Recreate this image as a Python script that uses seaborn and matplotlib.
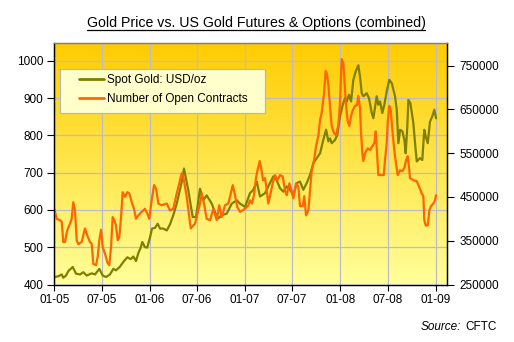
import numpy as np
import pandas as pd
import matplotlib
matplotlib.use("Agg")
import matplotlib.pyplot as plt
import matplotlib.dates as mdates
from matplotlib.patches import Rectangle
from matplotlib.lines import Line2D
from matplotlib.colors import LinearSegmentedColormap
from matplotlib.ticker import StrMethodFormatter
import seaborn as sns

# ---------------- data ----------------
# time in years since 2005-01-01
gold_t = [0.000, 0.042, 0.078, 0.094, 0.123, 0.147, 0.193, 0.228, 0.270, 0.304,
          0.340, 0.392, 0.427, 0.472, 0.508, 0.542, 0.584, 0.619, 0.647, 0.689,
          0.731, 0.766, 0.801, 0.829, 0.857, 0.881, 0.906, 0.923, 0.951, 0.975,
          1.004, 1.025, 1.056, 1.084, 1.109, 1.143, 1.179, 1.213, 1.248, 1.284,
          1.336, 1.360, 1.405, 1.451, 1.486, 1.528, 1.563, 1.598, 1.651, 1.685,
          1.720, 1.756, 1.808, 1.861, 1.913, 1.948, 2.000, 2.052, 2.087, 2.123,
          2.157, 2.210, 2.244, 2.297, 2.332, 2.367, 2.402, 2.437, 2.472, 2.507,
          2.542, 2.577, 2.611, 2.647, 2.682, 2.716, 2.752, 2.787, 2.821, 2.850,
          2.874, 2.891, 2.909, 2.944, 2.968, 2.996, 3.025, 3.049, 3.067, 3.091,
          3.112, 3.136, 3.161, 3.188, 3.206, 3.224, 3.241, 3.276, 3.300, 3.329,
          3.346, 3.371, 3.381, 3.398, 3.416, 3.440, 3.461, 3.486, 3.513, 3.539,
          3.573, 3.591, 3.608, 3.626, 3.650, 3.671, 3.685, 3.702, 3.713, 3.734,
          3.765, 3.783, 3.801, 3.835, 3.859, 3.880, 3.895, 3.916, 3.940, 3.964,
          3.985, 4.003]
gold_usd = [420, 422, 427, 418, 424, 436, 447, 429, 427, 433,
            424, 430, 427, 442, 424, 420, 427, 442, 438, 448,
            463, 473, 468, 475, 463, 484, 499, 514, 500, 499,
            527, 550, 552, 563, 550, 550, 545, 561, 586, 617,
            675, 711, 653, 581, 581, 657, 626, 639, 617, 594,
            577, 586, 590, 617, 626, 617, 608, 645, 654, 676,
            636, 645, 663, 690, 680, 658, 649, 663, 654, 640,
            672, 676, 654, 672, 694, 725, 739, 752, 788, 815,
            784, 792, 779, 788, 801, 851, 882, 900, 891, 909,
            891, 949, 972, 988, 958, 913, 905, 913, 900, 860,
            846, 887, 905, 882, 891, 860, 882, 918, 949, 940,
            905, 869, 779, 815, 811, 788, 752, 824, 895, 887,
            833, 779, 730, 739, 734, 815, 797, 779, 837, 851,
            869, 846]

oi_t = [0.000, 0.025, 0.060, 0.078, 0.094, 0.112, 0.136, 0.165, 0.182, 0.199,
        0.217, 0.235, 0.252, 0.287, 0.322, 0.346, 0.374, 0.392, 0.409, 0.437,
        0.455, 0.472, 0.490, 0.508, 0.532, 0.556, 0.577, 0.595, 0.612, 0.629,
        0.647, 0.665, 0.682, 0.700, 0.717, 0.741, 0.766, 0.787, 0.812, 0.836,
        0.857, 0.881, 0.917, 0.951, 0.975, 0.996, 1.021, 1.046, 1.067, 1.091,
        1.126, 1.179, 1.213, 1.248, 1.284, 1.336, 1.353, 1.389, 1.416, 1.431,
        1.476, 1.528, 1.546, 1.570, 1.598, 1.633, 1.668, 1.703, 1.730, 1.756,
        1.790, 1.825, 1.871, 1.895, 1.919, 1.948, 2.000, 2.035, 2.052, 2.073,
        2.094, 2.115, 2.136, 2.155, 2.173, 2.189, 2.210, 2.228, 2.244, 2.262,
        2.290, 2.315, 2.339, 2.367, 2.395, 2.420, 2.437, 2.465, 2.490, 2.507,
        2.535, 2.559, 2.577, 2.605, 2.622, 2.640, 2.664, 2.682, 2.700, 2.724,
        2.745, 2.769, 2.787, 2.804, 2.829, 2.846, 2.857, 2.874, 2.891, 2.909,
        2.933, 2.954, 2.979, 2.996, 3.014, 3.031, 3.049, 3.064, 3.077, 3.094,
        3.112, 3.130, 3.154, 3.175, 3.188, 3.206, 3.217, 3.230, 3.241, 3.259,
        3.287, 3.311, 3.335, 3.356, 3.371, 3.384, 3.398, 3.426, 3.455, 3.468,
        3.486, 3.497, 3.513, 3.528, 3.539, 3.555, 3.573, 3.591, 3.601, 3.626,
        3.650, 3.671, 3.689, 3.706, 3.723, 3.730, 3.765, 3.801, 3.825, 3.853,
        3.870, 3.880, 3.895, 3.916, 3.933, 3.951, 3.975, 3.993, 4.003]
oi_contracts = [423000, 400000, 397000, 393000, 347000, 347000, 374000, 389000, 400000, 438000,
                419000, 351000, 342000, 347000, 378000, 362000, 347000, 343000, 297000, 294000,
                313000, 351000, 375000, 335000, 320000, 301000, 294000, 335000, 404000, 397000,
                385000, 351000, 358000, 404000, 461000, 450000, 461000, 458000, 438000, 423000,
                400000, 408000, 416000, 423000, 412000, 400000, 442000, 477000, 469000, 435000,
                431000, 435000, 419000, 423000, 458000, 504000, 496000, 450000, 404000, 378000,
                389000, 435000, 458000, 435000, 400000, 397000, 423000, 397000, 431000, 404000,
                431000, 435000, 477000, 454000, 427000, 416000, 423000, 431000, 442000, 435000,
                454000, 493000, 516000, 532000, 511000, 488000, 493000, 465000, 435000, 452000,
                481000, 500000, 488000, 500000, 497000, 465000, 454000, 481000, 463000, 447000,
                481000, 474000, 429000, 429000, 452000, 408000, 419000, 465000, 511000, 534000,
                566000, 589000, 626000, 642000, 687000, 738000, 733000, 706000, 658000, 612000,
                596000, 591000, 614000, 664000, 765000, 756000, 694000, 648000, 623000, 612000,
                635000, 648000, 658000, 660000, 681000, 653000, 596000, 550000, 532000, 550000,
                561000, 557000, 566000, 573000, 600000, 550000, 500000, 500000, 500000, 534000,
                573000, 623000, 658000, 648000, 619000, 580000, 543000, 516000, 500000, 511000,
                509000, 516000, 534000, 543000, 511000, 493000, 488000, 486000, 474000, 458000,
                452000, 397000, 385000, 385000, 419000, 429000, 435000, 442000, 454000]

series_labels = ["Spot Gold: USD/oz", "Number of Open Contracts"]
left_ticks = [400, 500, 600, 700, 800, 900, 1000]
right_ticks = [250000, 350000, 450000, 550000, 650000, 750000]
title_text = "Gold Price vs. US Gold Futures & Options (combined)"


def to_dates(t):
    return pd.Timestamp("2005-01-01") + pd.to_timedelta(np.asarray(t) * 365.25, unit="D")


df_gold = pd.DataFrame({"date": to_dates(gold_t), "value": gold_usd})
df_oi = pd.DataFrame({"date": to_dates(oi_t), "value": oi_contracts})

# ---------------- styling ----------------
sns.set_theme(style="white")
plt.rcParams["font.family"] = ["Liberation Sans", "DejaVu Sans"]

W, H = 514, 342
fig = plt.figure(figsize=(W / 100, H / 100), dpi=100)
fig.patch.set_facecolor("white")

L, R, T, B = 54.3, 446.7, 43.3, 284.5
ax = fig.add_axes([L / W, 1 - B / H, (R - L) / W, (B - T) / H])

# gradient background
cmap = LinearSegmentedColormap.from_list("gold_bg", ["#FFFF99", "#FFCC00"])
grad = np.linspace(0, 1, 256).reshape(-1, 1)
ax.imshow(grad, extent=[0, 1, 0, 1], transform=ax.transAxes, aspect="auto",
          cmap=cmap, origin="lower", zorder=-1, interpolation="bilinear")

ax2 = ax.twinx()

gold_c = "#808000"
oi_c = "#FF6600"
sns.lineplot(data=df_gold, x="date", y="value", ax=ax, color=gold_c, lw=1.6,
             estimator=None, sort=False, legend=False)
sns.lineplot(data=df_oi, x="date", y="value", ax=ax2, color=oi_c, lw=1.6,
             estimator=None, sort=False, legend=False)

ax.set_xlim(pd.Timestamp("2005-01-01"), pd.Timestamp("2009-02-12"))
ax.set_ylim(400, 1047)
ax2.set_ylim(250000, 801000)
ax.set_yticks(left_ticks)
ax2.set_yticks(right_ticks)
ax2.yaxis.set_major_formatter(StrMethodFormatter("{x:.0f}"))
ax.xaxis.set_major_locator(mdates.MonthLocator(bymonth=[1, 7]))
ax.xaxis.set_major_formatter(mdates.DateFormatter("%m-%y"))

for a in (ax, ax2):
    a.set_xlabel("")
    a.set_ylabel("")

ax.set_axisbelow(True)
ax.grid(True, color="#BCBCCC", lw=0.9)
ax2.grid(False)

ax.tick_params(axis="x", bottom=True, direction="out", length=4, width=0.8,
               labelsize=8.5, pad=3, colors="black")
ax.tick_params(axis="y", left=True, direction="out", length=5, width=0.8,
               labelsize=8.5, pad=3, colors="black")
ax2.tick_params(axis="y", right=True, direction="out", length=5, width=0.8,
                labelsize=8.5, pad=4, colors="black")

for a in (ax, ax2):
    for s in ("left", "right", "bottom"):
        a.spines[s].set_color("black")
        a.spines[s].set_linewidth(0.9)
    a.spines["top"].set_color("#808080")
    a.spines["top"].set_linewidth(0.9)

# legend box (drawn as a figure patch) and entries
box = Rectangle((60 / W, 1 - 113 / H), 205 / W, 44 / H, transform=fig.transFigure,
                facecolor="#FFFFCC", edgecolor="#B8B8B8", lw=0.9, zorder=4)
fig.patches.append(box)
handles = [Line2D([], [], color=gold_c, lw=2.0), Line2D([], [], color=oi_c, lw=2.0)]
leg = fig.legend(handles, series_labels, loc="upper left",
                 bbox_to_anchor=(79 / W, 1 - 74 / H), bbox_transform=fig.transFigure,
                 frameon=False, fontsize=8.5, handlelength=2.1, handletextpad=0.3,
                 labelspacing=0.62, borderpad=0, borderaxespad=0)
leg.set_zorder(5)
for t in leg.get_texts():
    t.set_color("black")

# title with underline
title = fig.text(256 / W, 1 - 27.3 / H, title_text, ha="center", va="baseline",
                 fontsize=10.2, color="black")
fig.canvas.draw()
bb = title.get_window_extent(fig.canvas.get_renderer())
uy = 1 - 29.8 / H
fig.add_artist(Line2D([bb.x0 / W, bb.x1 / W], [uy, uy], transform=fig.transFigure,
                      color="black", lw=0.9))

# source note
fig.text(461 / W, 1 - 326.7 / H, "Source:", ha="right", va="center",
         fontsize=8.5, style="italic", color="black")
fig.text(465 / W, 1 - 326.7 / H, "CFTC", ha="left", va="center",
         fontsize=8.5, color="black")

fig.savefig("out.png", dpi=100, facecolor="white")
